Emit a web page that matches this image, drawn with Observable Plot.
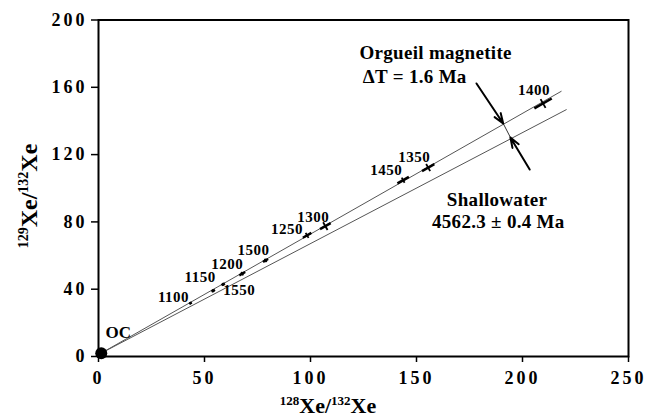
<!DOCTYPE html>
<html><head><meta charset="utf-8">
<script src="https://cdn.jsdelivr.net/npm/d3@7"></script>
<script src="https://cdn.jsdelivr.net/npm/@observablehq/plot@0.6"></script>
<style>
body{margin:0;background:#fff}
svg{display:block}
svg text{font-family:"Liberation Serif","Times New Roman",serif !important}
g[aria-label="y-axis tick label"] text, g[aria-label="x-axis tick label"] text {letter-spacing:3px}
g.pt-label text {letter-spacing:0.5px}
g.ann text {letter-spacing:0.3px}
</style>
</head><body><div id="chart"></div>
<script>
// Temperature steps (°C) of Orgueil magnetite
const steps = ["1100","1150","1550","1200","1500","1250","1300","1450","1350","1400"];
const xe128 = [43.4, 54.1, 58.8, 67.8, 78.8, 98.4, 107.0, 143.7, 155.5, 209.7];
const xe129 = [31.7, 39.1, 42.9, 49.2, 57.1, 72.0, 77.5, 104.8, 112.3, 150.4];
// uncertainties: half-length along the isochron (128Xe units) and across it (129Xe units)
const errAlong  = [0.6, 0.8, 0.8, 1.4, 1.2, 2.0, 2.5, 2.7, 2.9, 4.1];
const errAcross = [0.5, 0.8, 0.8, 1.0, 1.0, 1.5, 2.3, 1.5, 2.1, 2.6];
// OC (ordinary chondrite trapped Xe)
const ocX = [1.3];
const ocY = [2.0];
// isochron end points
const isoNames = ["Orgueil magnetite", "Shallowater"];
const isoX2 = [218.4, 220.8];
const isoY2 = [157.7, 146.8];
const xTicks = [0, 50, 100, 150, 200, 250];
const yTicks = [0, 40, 80, 120, 160, 200];

// label offsets (layout)
const labelOffsets = [[-17,-6],[-13,-14],[16,6],[-15,-10],[-12,-10],[-20,-6],[-12,-9],[-17,-10],[-14,-10],[-9,-13]];

const pts = steps.map((s,i)=>({step:s, x:xe128[i], y:xe129[i], ea:errAlong[i], ec:errAcross[i]}));
const iso = isoNames.map((n,i)=>({name:n, x1:ocX[0], y1:ocY[0], x2:isoX2[i], y2:isoY2[i]}));
const slope = (isoY2[0]-ocY[0])/(isoX2[0]-ocX[0]);
const W = 646, H = 418, ML = 98, MR = 18, MT = 19.5, MB = 62;
const kx = (W-ML-MR)/250, ky = (H-MT-MB)/200;
const perpK = slope*ky/kx * ky/kx;
const font = '"Liberation Serif", "Times New Roman", serif';

const labelMarks = pts.map((p,i)=>Plot.text([p], {x:"x", y:"y", text:"step", dx:labelOffsets[i][0], dy:labelOffsets[i][1], fontSize:15, fontWeight:"bold", fill:"#000", className:"pt-label"}));

const annStart = [
  {x:123.1, y:180.4, t:"Orgueil magnetite"},
  {x:124.7, y:165.9, t:"ΔT = 1.6 Ma"}
];
const annMid = [
  {x:188.0, y:93.0, t:"Shallowater"},
  {x:188.6, y:80.2, t:"4562.3 ± 0.4 Ma"}
];
const arrows = [
  {x1:178.3, y1:162.3, x2:190.9, y2:138.5},
  {x1:203.4, y1:111.1, x2:194.3, y2:130.2}
];

const chart = Plot.plot({
  width: W, height: H,
  marginLeft: ML, marginRight: MR, marginTop: MT, marginBottom: MB,
  style: {fontFamily: font, background: "#fff", color:"#000"},
  x: {domain:[0,250]},
  y: {domain:[0,200]},
  marks: [
    Plot.link(iso, {x1:"x1", y1:"y1", x2:"x2", y2:"y2", stroke:"#555", strokeWidth:1}),
    Plot.link(pts, {x1:d=>d.x-d.ea, y1:d=>d.y-d.ea*slope, x2:d=>d.x+d.ea, y2:d=>d.y+d.ea*slope, stroke:"#000", strokeWidth:2.5}),
    Plot.link(pts, {x1:d=>d.x-d.ec*perpK, y1:d=>d.y+d.ec, x2:d=>d.x+d.ec*perpK, y2:d=>d.y-d.ec, stroke:"#000", strokeWidth:1.8}),
    Plot.dot(ocX.map((x,i)=>({x, y:ocY[i]})), {x:"x", y:"y", r:6, fill:"#000"}),
    Plot.text(ocX.map((x,i)=>({x, y:ocY[i]})), {x:"x", y:"y", text:()=>"OC", dx:17, dy:-21, fontSize:17, fontWeight:"bold"}),
    ...labelMarks,
    Plot.link([{x1:arrows[0].x2, y1:arrows[0].y2, x2:arrows[1].x2, y2:arrows[1].y2}], {x1:"x1", y1:"y1", x2:"x2", y2:"y2", stroke:"#000", strokeWidth:0.8}),
    Plot.arrow(arrows, {x1:"x1", y1:"y1", x2:"x2", y2:"y2", stroke:"#000", strokeWidth:2, headLength:8, headAngle:40}),
    Plot.text(annStart, {x:"x", y:"y", text:"t", textAnchor:"start", fontSize:19, fontWeight:"bold", className:"ann"}),
    Plot.text(annMid, {x:"x", y:"y", text:"t", textAnchor:"middle", fontSize:19, fontWeight:"bold", className:"ann"}),
    Plot.axisX({ticks:xTicks, tickSize:6, tickPadding:9, strokeWidth:1.5, fontSize:18, fontWeight:"bold", tickFormat:d=>String(d), label:null}),
    Plot.axisY({ticks:yTicks, tickSize:7, tickPadding:4, strokeWidth:1.5, fontSize:18, fontWeight:"bold", tickFormat:d=>String(d), label:null}),
    Plot.frame({stroke:"#000", strokeWidth:2})
  ]
});
document.getElementById("chart").append(chart);
const svg = d3.select(chart);

function axisLabel(x, y, rot, big, small, shift, parts){
  const t = svg.append("text")
    .attr("transform", `translate(${x},${y}) rotate(${rot})`)
    .attr("text-anchor","middle")
    .attr("font-weight","bold").attr("fill","#000");
  parts.forEach(([s, sup])=>{
    const ts = t.append("tspan").text(s);
    if (sup) ts.attr("font-size", small).attr("dy", -shift);
    else ts.attr("font-size", big).attr("dy", shift);
  });
  return t;
}
axisLabel(37, 196, -90, 24, 14, 9, [["129",1],["Xe/",0],["132",1],["Xe",0]]);
axisLabel(328, 413, 0, 22, 13, 8, [["128",1],["Xe/",0],["132",1],["Xe",0]]);
</script>
</body></html>
